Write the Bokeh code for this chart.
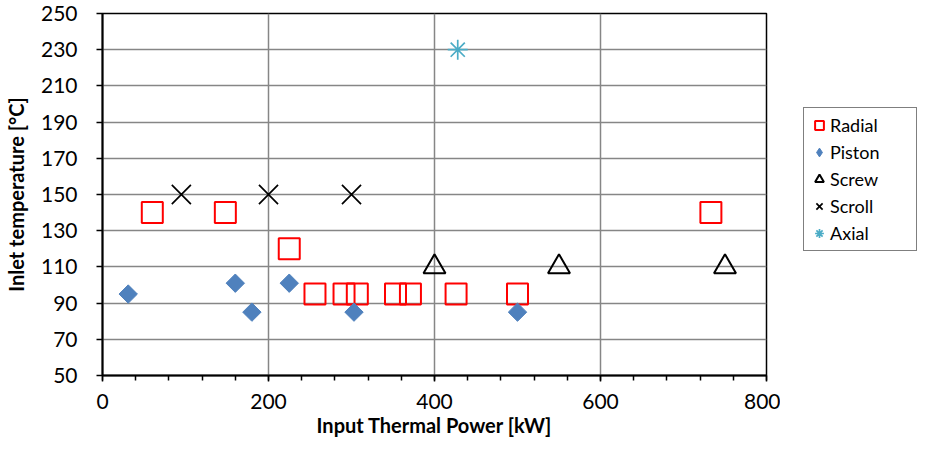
import math
from bokeh.plotting import figure
from bokeh.layouts import row
from bokeh.models import FixedTicker, Legend, LegendItem
from bokeh.embed import file_html
from bokeh.resources import INLINE

# Data
radial_x = [60, 148, 225, 256, 291, 307, 353, 371, 426, 500, 733]
radial_y = [140, 140, 120, 95, 95, 95, 95, 95, 95, 95, 140]
piston_x = [31, 160, 180, 225, 303, 500]
piston_y = [95, 101, 85, 101, 85, 85]
screw_x = [400, 550, 750]
screw_y = [110, 110, 110]
scroll_x = [95, 200, 300]
scroll_y = [150, 150, 150]
axial_x = [428]
axial_y = [230]

x_major = [0, 200, 400, 600, 800]
x_minor = list(range(0, 801, 40))
y_major = list(range(50, 251, 20))

FONT = "Lato"
RED = "#FF0000"
BLUE = "#4F81BD"
CYAN = "#4BACC6"

p = figure(width=780, height=440, x_range=(0, 800), y_range=(50, 250),
           output_backend="svg", toolbar_location=None,
           min_border_left=100, min_border_right=14, min_border_top=13, min_border_bottom=65)
p.outline_line_color = "black"
p.outline_line_width = 1.5
p.background_fill_color = "white"

p.xaxis.ticker = FixedTicker(ticks=x_major, minor_ticks=x_minor)
p.yaxis.ticker = FixedTicker(ticks=y_major)
for ax in (p.xaxis[0], p.yaxis[0]):
    ax.axis_line_color = "black"
    ax.axis_line_width = 2
    ax.major_tick_line_color = "black"
    ax.major_tick_line_width = 1.5
    ax.major_tick_in = 0
    ax.major_tick_out = 6
    ax.major_label_text_font = FONT
    ax.major_label_text_font_size = "21px"
    ax.major_label_text_color = "black"
    ax.axis_label_text_font = FONT
    ax.axis_label_text_font_style = "bold"
    ax.axis_label_text_color = "black"
    ax.axis_label_text_font_size = "20px"
p.xaxis.minor_tick_line_color = "black"
p.xaxis.minor_tick_line_width = 1.5
p.xaxis.minor_tick_in = 0
p.xaxis.minor_tick_out = 5
p.yaxis.minor_tick_line_color = None
p.xaxis.axis_label = "Input Thermal Power [kW]"
p.yaxis.axis_label = "Inlet temperature [°C]"
p.xaxis.major_label_standoff = 12
p.yaxis.major_label_standoff = 19
p.xaxis.axis_label_standoff = 1
p.yaxis.axis_label_standoff = 10

p.xgrid.ticker = FixedTicker(ticks=x_major)
p.ygrid.ticker = FixedTicker(ticks=y_major)
p.grid.grid_line_color = "#868686"
p.grid.grid_line_width = 1.5


def add_series(fig, visible=True, legend_mode=False):
    r1 = fig.scatter(radial_x, radial_y, marker="square", size=21, fill_color=None,
                     line_color=RED, line_width=2, visible=visible)
    if legend_mode:
        r2 = fig.scatter(piston_x, piston_y, marker="diamond", size=13,
                         fill_color=BLUE, line_color=BLUE, visible=visible)
    else:
        r2 = fig.scatter(piston_x, piston_y, marker="square", angle=math.pi / 4, size=13,
                         fill_color=BLUE, line_color=BLUE, visible=visible)
    r3 = fig.scatter(screw_x, screw_y, marker="triangle", size=22, fill_color=None,
                     line_color="black", line_width=2, visible=visible)
    r4 = fig.scatter(scroll_x, scroll_y, marker="x", size=27, line_color="black",
                     line_width=1.7, visible=visible)
    r5 = fig.scatter(axial_x, axial_y, marker="asterisk", size=20, line_color=CYAN,
                     line_width=1.7, visible=visible)
    return [r1, r2, r3, r4, r5]


add_series(p)

# legend panel
lf = figure(width=138, height=440, x_axis_type=None, y_axis_type=None,
            output_backend="svg", toolbar_location=None,
            min_border_left=0, min_border_right=0, min_border_top=0, min_border_bottom=0)
lf.outline_line_color = None
lf.background_fill_color = "white"
lrs = add_series(lf, visible=False, legend_mode=True)
names = ["Radial", "Piston", "Screw", "Scroll", "Axial"]
legend = Legend(items=[LegendItem(label=n, renderers=[r]) for n, r in zip(names, lrs)],
                location=(23, 124))
legend.border_line_color = "black"
legend.border_line_width = 1
legend.background_fill_alpha = 1
legend.label_text_font = FONT
legend.label_text_font_size = "18px"
legend.label_text_color = "black"
legend.glyph_width = 22
legend.glyph_height = 26
legend.label_standoff = 0
legend.label_height = 20
legend.label_width = 82
legend.spacing = 1
legend.padding = 4
legend.margin = 0
legend.click_policy = "none"
lf.add_layout(legend, "center")

layout = row(p, lf, spacing=0)
open("out.html", "w").write(file_html(layout, INLINE))
